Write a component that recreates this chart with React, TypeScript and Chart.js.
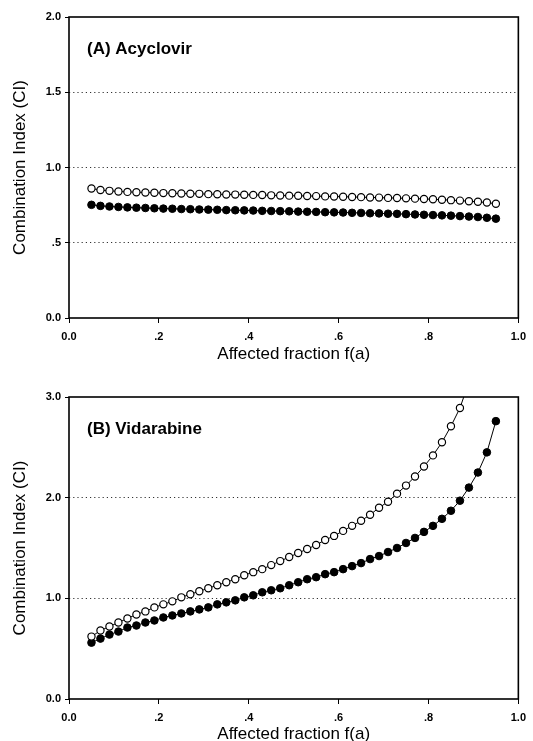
import React, { useEffect, useRef } from 'react';
import { Chart, registerables } from 'chart.js';

Chart.register(...registerables);

const fractions = [
  0.05, 0.07, 0.09, 0.11, 0.13, 0.15, 0.17, 0.19, 0.21, 0.23,
  0.25, 0.27, 0.29, 0.31, 0.33, 0.35, 0.37, 0.39, 0.41, 0.43,
  0.45, 0.47, 0.49, 0.51, 0.53, 0.55, 0.57, 0.59, 0.61, 0.63,
  0.65, 0.67, 0.69, 0.71, 0.73, 0.75, 0.77, 0.79, 0.81, 0.83,
  0.85, 0.87, 0.89, 0.91, 0.93, 0.95,
];

const acyclovirOpen = [
  0.860, 0.850, 0.845, 0.841, 0.838, 0.836, 0.834, 0.832, 0.830, 0.829,
  0.827, 0.826, 0.825, 0.823, 0.822, 0.821, 0.820, 0.819, 0.818, 0.817,
  0.815, 0.814, 0.813, 0.812, 0.811, 0.810, 0.808, 0.807, 0.806, 0.804,
  0.803, 0.801, 0.800, 0.798, 0.797, 0.795, 0.793, 0.791, 0.789, 0.786,
  0.783, 0.780, 0.776, 0.772, 0.767, 0.759,
];

const acyclovirFilled = [
  0.752, 0.745, 0.741, 0.738, 0.735, 0.733, 0.731, 0.729, 0.727, 0.726,
  0.724, 0.723, 0.721, 0.720, 0.719, 0.717, 0.716, 0.715, 0.714, 0.712,
  0.711, 0.710, 0.709, 0.707, 0.706, 0.705, 0.703, 0.702, 0.701, 0.699,
  0.698, 0.696, 0.695, 0.693, 0.692, 0.690, 0.688, 0.686, 0.684, 0.682,
  0.680, 0.677, 0.674, 0.671, 0.666, 0.660,
];

const vidarabineOpen = [
  0.62, 0.68, 0.72, 0.76, 0.80, 0.84, 0.87, 0.91, 0.94, 0.97,
  1.01, 1.04, 1.07, 1.10, 1.13, 1.16, 1.19, 1.23, 1.26, 1.29,
  1.33, 1.37, 1.41, 1.45, 1.49, 1.53, 1.58, 1.62, 1.67, 1.72,
  1.77, 1.83, 1.90, 1.96, 2.04, 2.12, 2.21, 2.31, 2.42, 2.55,
  2.71, 2.89, 3.15,
];

const vidarabineFilled = [
  0.56, 0.60, 0.64, 0.67, 0.71, 0.73, 0.76, 0.78, 0.81, 0.83,
  0.85, 0.87, 0.89, 0.91, 0.94, 0.96, 0.98, 1.01, 1.03, 1.06,
  1.08, 1.10, 1.13, 1.16, 1.19, 1.21, 1.24, 1.26, 1.29, 1.32,
  1.35, 1.39, 1.42, 1.46, 1.50, 1.55, 1.60, 1.66, 1.72, 1.79,
  1.87, 1.97, 2.10, 2.25, 2.45, 2.76,
];

const xTickLabels = ['0.0', '.2', '.4', '.6', '.8', '1.0'];
const yTickLabelsA = ['0.0', '.5', '1.0', '1.5', '2.0'];
const yTickLabelsB = ['0.0', '1.0', '2.0', '3.0'];
const panelTitleA = '(A) Acyclovir';
const panelTitleB = '(B) Vidarabine';
const xAxisTitle = 'Affected fraction f(a)';
const yAxisTitle = 'Combination Index (CI)';

const FONT = '"Liberation Sans", Arial, Helvetica, sans-serif';

type PanelSpec = {
  title: string;
  open: number[];
  filled: number[];
  yMax: number;
  yStep: number;
  yLabels: string[];
  padTop: number;
  xAxisHeight: number;
  xTitlePadBottom: number;
};

function buildConfig(spec: PanelSpec): any {
  const toPoints = (vals: number[]) => vals.map((v, i) => ({ x: fractions[i], y: v }));
  const frame = {
    id: 'frame',
    afterDraw(chart: any) {
      const { ctx, chartArea } = chart;
      ctx.save();
      ctx.strokeStyle = '#000';
      ctx.lineWidth = 1.6;
      ctx.strokeRect(chartArea.left, chartArea.top, chartArea.right - chartArea.left, chartArea.bottom - chartArea.top);
      ctx.fillStyle = '#000';
      ctx.font = `bold 17px ${FONT}`;
      ctx.textAlign = 'left';
      ctx.textBaseline = 'middle';
      ctx.fillText(spec.title, chartArea.left + 18, chartArea.top + 32);
      ctx.restore();
    },
  };
  return {
    type: 'line',
    data: {
      datasets: [
        {
          label: 'open',
          data: toPoints(spec.open),
          borderColor: '#000',
          borderWidth: 1,
          pointRadius: 3.6,
          pointBorderWidth: 1.2,
          pointBackgroundColor: '#fff',
          pointBorderColor: '#000',
          fill: false,
          tension: 0,
        },
        {
          label: 'filled',
          data: toPoints(spec.filled),
          borderColor: '#000',
          borderWidth: 1,
          pointRadius: 3.8,
          pointBorderWidth: 1,
          pointBackgroundColor: '#000',
          pointBorderColor: '#000',
          fill: false,
          tension: 0,
        },
      ],
    },
    options: {
      responsive: false,
      animation: false,
      events: [],
      layout: { padding: { left: 0, right: 11, top: spec.padTop, bottom: 0 } },
      plugins: { legend: { display: false }, tooltip: { enabled: false } },
      scales: {
        x: {
          type: 'linear',
          min: 0,
          max: 1,
          afterFit: (s: any) => { s.height = spec.xAxisHeight; },
          ticks: {
            stepSize: 0.2,
            color: '#000',
            padding: 7,
            maxRotation: 0,
            font: { family: FONT, size: 11, weight: 'bold' },
            callback: (_v: any, i: number) => xTickLabels[i],
          },
          grid: {
            drawOnChartArea: false,
            color: '#000',
            tickColor: '#000',
            tickLength: 5,
            lineWidth: 1,
          },
          border: { display: false },
          title: {
            display: true,
            text: xAxisTitle,
            color: '#000',
            font: { family: FONT, size: 17 },
            padding: { top: 0, bottom: spec.xTitlePadBottom },
          },
        },
        y: {
          type: 'linear',
          min: 0,
          max: spec.yMax,
          afterFit: (s: any) => { s.width = 69; },
          ticks: {
            stepSize: spec.yStep,
            color: '#000',
            padding: 4,
            font: { family: FONT, size: 11, weight: 'bold' },
            callback: (_v: any, i: number) => spec.yLabels[i],
          },
          grid: {
            color: (ctx: any) =>
              ctx.tick && (ctx.tick.value === 0 || ctx.tick.value === spec.yMax) ? 'rgba(0,0,0,0)' : '#333',
            lineWidth: 1,
            tickColor: '#000',
            tickBorderDash: [],
            tickLength: 4,
            tickWidth: 1,
          },
          border: { display: false, dash: [1.2, 3] },
          title: {
            display: true,
            text: yAxisTitle,
            color: '#000',
            font: { family: FONT, size: 17 },
            padding: { top: 10, bottom: 0 },
          },
        },
      },
    },
    plugins: [frame],
  };
}

function Panel(props: { spec: PanelSpec; top: number; height: number }) {
  const ref = useRef<HTMLCanvasElement>(null);
  useEffect(() => {
    if (!ref.current) return;
    const chart = new Chart(ref.current, buildConfig(props.spec));
    return () => chart.destroy();
  }, []);
  return (
    <canvas
      ref={ref}
      width={533}
      height={props.height}
      style={{ position: 'absolute', left: 0, top: props.top, width: 533, height: props.height }}
    />
  );
}

export default function App() {
  const specA: PanelSpec = {
    title: panelTitleA,
    open: acyclovirOpen,
    filled: acyclovirFilled,
    yMax: 2,
    yStep: 0.5,
    yLabels: yTickLabelsA,
    padTop: 17,
    xAxisHeight: 54,
    xTitlePadBottom: 7,
  };
  const specB: PanelSpec = {
    title: panelTitleB,
    open: vidarabineOpen,
    filled: vidarabineFilled,
    yMax: 3,
    yStep: 1,
    yLabels: yTickLabelsB,
    padTop: 25,
    xAxisHeight: 53,
    xTitlePadBottom: 7,
  };
  return (
    <div style={{ position: 'absolute', left: 0, top: 0, width: 533, height: 741, overflow: 'hidden', background: '#fff' }}>
      <Panel spec={specA} top={0} height={372} />
      <Panel spec={specB} top={372} height={380} />
    </div>
  );
}
